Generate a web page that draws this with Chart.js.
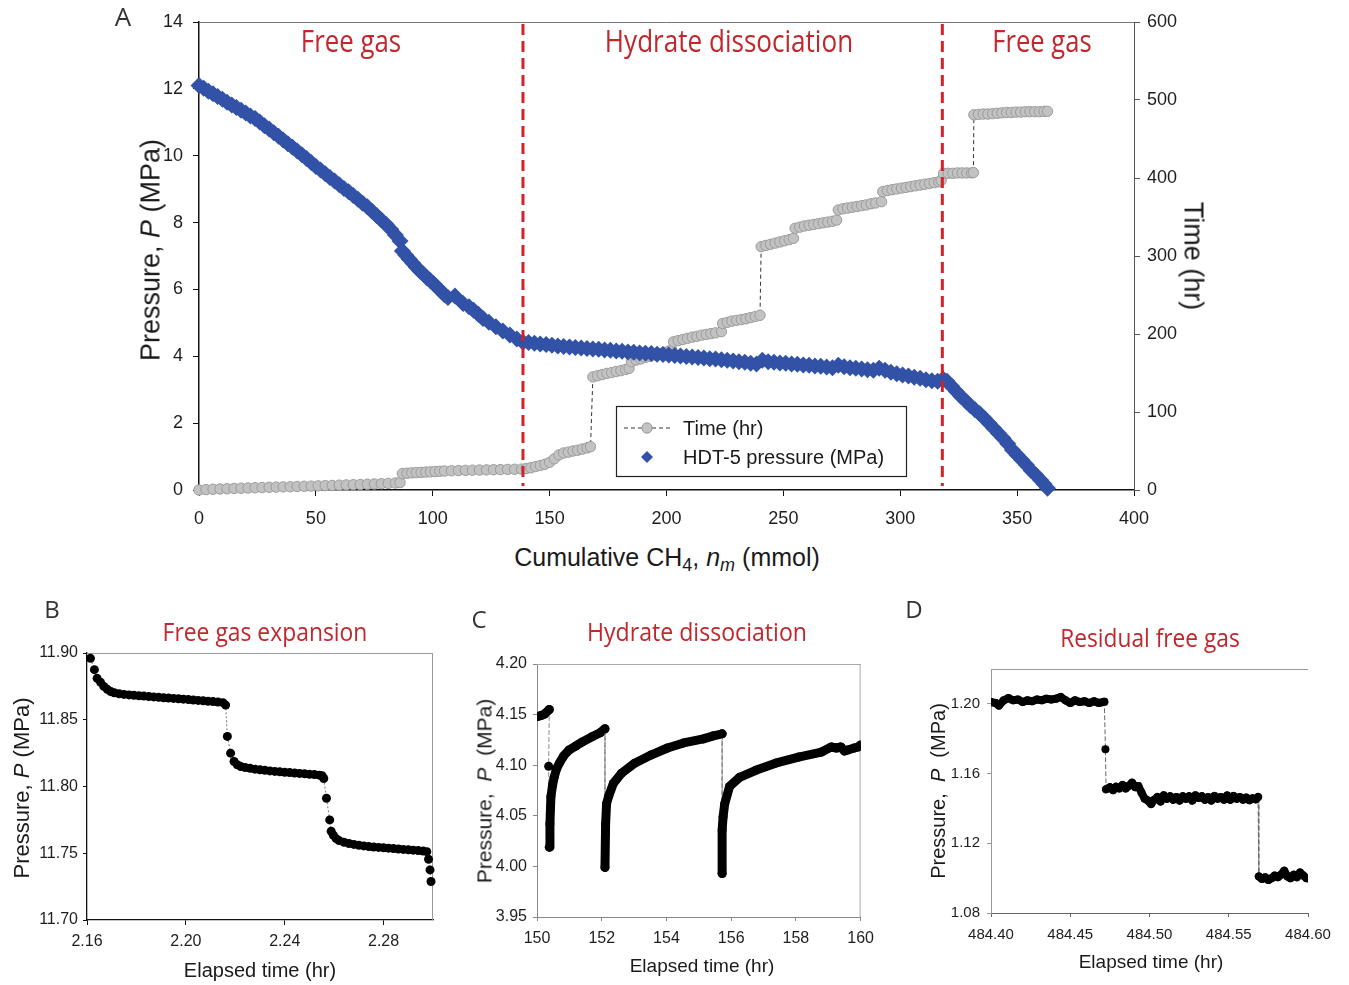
<!DOCTYPE html>
<html>
<head>
<meta charset="utf-8">
<script src="https://cdn.jsdelivr.net/npm/chart.js@4.4.1/dist/chart.umd.min.js"></script>
<style>
  body { margin: 0; background: #fff; }
  #page { position: relative; width: 1349px; height: 985px; overflow: hidden; font-family: 'Liberation Sans', Arial, sans-serif; color: #1a1a1a; }
  canvas { position: absolute; }
  .t { position: absolute; white-space: nowrap; line-height: 1; transform: translate(-50%, -50%); }
  .rot { transform: translate(-50%, -50%) rotate(-90deg); }
  .rotr { transform: translate(-50%, -50%) rotate(90deg); }
  .red { color: #c1272d; font-family: 'Open Sans', sans-serif; }
  .letter { font-family: 'Open Sans', sans-serif; color: #333; }
  sub { font-size: 0.72em; vertical-align: -0.3em; line-height: 0; }
</style>
</head>
<body>
<div id="page">
  <canvas id="chartA" width="1100" height="530" style="left:100px;top:0px"></canvas>
  <canvas id="chartB" width="445" height="365" style="left:0px;top:600px"></canvas>
  <canvas id="chartC" width="432" height="365" style="left:450px;top:600px"></canvas>
  <canvas id="chartD" width="440" height="365" style="left:900px;top:600px"></canvas>

  <!-- panel A -->
  <div class="t letter" style="left:123px;top:16px;font-size:26px">A</div>
  <div class="t red" style="left:351px;top:40px;font-size:31px" data-w="100">Free gas</div>
  <div class="t red" style="left:729px;top:40px;font-size:31px" data-w="248">Hydrate dissociation</div>
  <div class="t red" style="left:1042px;top:40px;font-size:31px" data-w="99">Free gas</div>
  <div class="t rot" style="left:151px;top:250px;font-size:27px">Pressure, <i>P</i> (MPa)</div>
  <div class="t rotr" style="left:1193px;top:256px;font-size:27px">Time (hr)</div>
  <div class="t" style="left:667px;top:557px;font-size:25px">Cumulative CH<sub>4</sub>, <i>n<sub>m</sub></i> (mmol)</div>

  <!-- panel B -->
  <div class="t letter" style="left:52px;top:609px;font-size:24px">B</div>
  <div class="t red" style="left:265px;top:631px;font-size:25px" data-w="205">Free gas expansion</div>
  <div class="t rot" style="left:22px;top:788px;font-size:22px">Pressure, <i>P</i> (MPa)</div>
  <div class="t" style="left:260px;top:970px;font-size:20px">Elapsed time (hr)</div>

  <!-- panel C -->
  <div class="t letter" style="left:479px;top:619px;font-size:24px">C</div>
  <div class="t red" style="left:697px;top:631px;font-size:25px" data-w="220">Hydrate dissociation</div>
  <div class="t rot" style="left:484px;top:791px;font-size:21px">Pressure,&nbsp; <i>P</i>&nbsp; (MPa)</div>
  <div class="t" style="left:702px;top:965px;font-size:19px">Elapsed time (hr)</div>

  <!-- panel D -->
  <div class="t letter" style="left:914px;top:609px;font-size:24px">D</div>
  <div class="t red" style="left:1150px;top:637px;font-size:25px" data-w="180">Residual free gas</div>
  <div class="t rot" style="left:938px;top:791px;font-size:20px">Pressure,&nbsp; <i>P</i>&nbsp; (MPa)</div>
  <div class="t" style="left:1151px;top:961px;font-size:19px">Elapsed time (hr)</div>
</div>

<script>
// ---- panel A : cumulative CH4 vs pressure and elapsed time ----
const nmPressure = [
  0, 2, 4, 6, 8, 10, 12, 14, 16, 18, 20, 22, 24, 26, 28,
  30, 32, 34, 36, 38, 40, 42, 44, 46, 48, 50, 52, 54, 56, 58,
  60, 62, 64, 66, 68, 70, 72, 74, 76, 78, 80, 82, 84, 86,
  87, 88.5, 90, 91.5, 93, 94.5, 96, 97.5, 99, 100.5, 102, 103.5, 105, 106.5,
  109.5, 113, 115.5, 117.5, 119.5, 121.5, 124, 127, 130, 133, 136, 138.6,
  141, 143.5, 146, 148.5, 151, 153.5, 156, 158.5, 161, 163.5, 166, 168.5, 171, 173.5, 176,
  178.5, 181, 183.5, 186, 188.5, 191, 193.5, 196, 198.5, 201, 203.5, 206, 208.5, 211, 213.5,
  216, 218.5, 221, 223.5, 226, 228.5, 231, 233.5, 236, 238.5, 241, 243.5, 246, 248.5, 251,
  253.5, 256, 258.5, 261, 263.5, 266, 268.5, 271, 273.5, 276, 278.5, 281, 283.5, 286, 288.5,
  291, 293.5, 296, 298.5, 301, 303.5, 306, 308.5, 311, 313.5, 316, 318.3,
  320, 322, 324, 326, 328, 330, 332, 334, 336, 338, 340, 342,
  344, 346, 348, 350, 352, 354, 356, 358, 360, 361.5, 363
];
const pressureMPa = [
  12.10, 12.02, 11.93, 11.85, 11.77, 11.69, 11.60, 11.52, 11.44, 11.36, 11.28, 11.19, 11.11, 11.01, 10.90,
  10.80, 10.69, 10.58, 10.47, 10.36, 10.25, 10.14, 10.03, 9.92, 9.80, 9.68, 9.57, 9.46, 9.35, 9.24,
  9.13, 9.02, 8.92, 8.81, 8.70, 8.58, 8.47, 8.34, 8.21, 8.08, 7.95, 7.80, 7.63, 7.45,
  7.15, 7.02, 6.90, 6.78, 6.66, 6.55, 6.46, 6.35, 6.26, 6.16, 6.06, 5.95, 5.84, 5.76,
  5.80, 5.58, 5.48, 5.38, 5.26, 5.13, 5.02, 4.88, 4.76, 4.64, 4.52, 4.42,
  4.41, 4.39, 4.37, 4.35, 4.33, 4.31, 4.29, 4.28, 4.26, 4.25, 4.23, 4.22, 4.21, 4.19, 4.18,
  4.16, 4.15, 4.13, 4.12, 4.10, 4.09, 4.08, 4.06, 4.05, 4.04, 4.02, 4.01, 3.99, 3.98, 3.96,
  3.95, 3.93, 3.92, 3.90, 3.88, 3.86, 3.84, 3.82, 3.79, 3.77, 3.88, 3.84, 3.82, 3.80, 3.79,
  3.77, 3.76, 3.74, 3.73, 3.71, 3.70, 3.68, 3.66, 3.73, 3.69, 3.66, 3.64, 3.62, 3.60, 3.58,
  3.64, 3.58, 3.52, 3.48, 3.44, 3.41, 3.37, 3.34, 3.30, 3.27, 3.25, 3.32,
  3.25, 3.10, 2.95, 2.80, 2.66, 2.52, 2.40, 2.28, 2.15, 2.00, 1.85, 1.70,
  1.55, 1.38, 1.20, 1.05, 0.90, 0.75, 0.58, 0.45, 0.30, 0.18, 0.05
];
const nmTime = [
  0, 3, 6, 9, 12, 15, 18, 21, 24, 27, 30, 33, 36, 39, 42,
  45, 48, 51, 54, 57, 60, 63, 66, 69, 72, 75, 78, 81, 84, 86,
  87, 89, 91, 93, 95, 97, 99, 101, 103, 105, 108,
  111, 114, 117, 120, 123, 126, 129, 132, 135, 138,
  140, 142, 144, 146, 148, 150, 152, 154, 156, 158, 160, 162, 164, 166, 167.5,
  168.5, 170.5, 172.5, 174.5, 176.5, 178.5, 180.5, 182.5, 184,
  185, 187, 189, 191, 193, 195, 197, 199, 201, 202.2,
  203, 205, 207, 209, 211, 213, 215, 217, 219, 221, 223.5,
  224, 226, 228, 230, 232, 234, 236, 238, 240,
  240.5, 242.5, 244.5, 246.5, 248.5, 250.5, 252.5, 254.3,
  255, 257, 259, 261, 263, 265, 267, 269, 271, 272.8,
  273.5, 275.5, 277.5, 279.5, 281.5, 283.5, 285.5, 287.5, 289.5, 292,
  292.5, 294.5, 296.5, 298.5, 300.5, 302.5, 304.5, 306.5, 308.5, 310.5, 312.5, 314.5, 316.5, 317.5,
  318.5, 320.5, 322.5, 324.5, 326.5, 328.5, 330.5, 331.3,
  331.5, 333.5, 335.5, 337.5, 339.5, 341.5, 343.5, 345.5, 347.5, 349.5, 351.5, 353.5, 355.5, 357.5, 359.5, 361.5, 363
];
const timeHr = [
  0, 0.5, 1, 1.3, 1.6, 2, 2.3, 2.6, 2.9, 3.2, 3.5, 3.7, 4, 4.2, 4.5,
  4.8, 5, 5.3, 5.6, 5.9, 6.2, 6.5, 6.8, 7, 7.4, 7.7, 8.1, 8.5, 9, 9.5,
  21, 21.5, 22, 22.3, 22.6, 23, 23.3, 23.6, 24, 24.3, 24.6,
  25, 25.2, 25.4, 25.6, 25.8, 26, 26.2, 26.4, 26.6, 26.8,
  27.5, 28.5, 30, 31.5, 33, 35.5, 40, 45, 47.5, 48.5, 50, 51, 52.5, 54, 55.5,
  145, 146.5, 148, 149.5, 150.5, 152, 153, 154.5, 156,
  164.5, 166.5, 168, 170, 171.5, 173, 175, 176.5, 178, 179.5,
  190, 191.5, 193, 194.5, 196, 197, 198.5, 199.5, 200.5, 201.5, 203,
  213.5, 215, 216.5, 217.5, 218.5, 219.5, 221, 222.5, 224,
  312, 313.5, 315, 316.5, 318, 319.5, 321, 322.6,
  335.5, 337, 338.5, 339.5, 340.5, 341.5, 342.5, 343.5, 344.5, 346,
  359, 360.5, 361.5, 362.5, 363.5, 364.5, 365.5, 367, 368, 369.6,
  382.5, 384, 385, 386, 387, 388, 389, 390, 391, 392, 393, 394, 395, 397,
  406, 406, 406, 406.5, 406.5, 406.5, 406.5, 407,
  481, 481.5, 482, 482, 482.5, 483, 483.5, 484, 484, 484.5, 484.5, 485, 485, 485, 485, 485.5, 485.5
];
const phaseBounds = [138.6, 318];
const ticksAx = [0, 50, 100, 150, 200, 250, 300, 350, 400];
const ticksAy = [0, 2, 4, 6, 8, 10, 12, 14];
const ticksAy2 = [0, 100, 200, 300, 400, 500, 600];

// ---- panel B : free gas expansion ----
const tB = [
  2.1614, 2.1630, 2.1641, 2.1655, 2.1668, 2.1682, 2.1696, 2.171, 2.173, 2.175,
  2.177, 2.179, 2.181, 2.183, 2.185, 2.187, 2.189, 2.191, 2.193, 2.195,
  2.197, 2.199, 2.201, 2.203, 2.205, 2.207, 2.209, 2.211, 2.213, 2.215,
  2.2161, 2.2168, 2.2181, 2.2195, 2.2208, 2.2222, 2.224, 2.226, 2.228, 2.230,
  2.232, 2.234, 2.236, 2.238, 2.240, 2.242, 2.244, 2.246, 2.248, 2.250,
  2.252, 2.254, 2.2552, 2.2558, 2.2569, 2.2582, 2.2588, 2.2597, 2.2608, 2.262,
  2.264, 2.266, 2.268, 2.270, 2.272, 2.274, 2.276, 2.278, 2.280, 2.282,
  2.284, 2.286, 2.288, 2.290, 2.292, 2.294, 2.296, 2.2975, 2.2982, 2.2988,
  2.2992
];
const pB = [
  11.896, 11.8875, 11.881, 11.878, 11.875, 11.8728, 11.8712, 11.8702, 11.8695, 11.869,
  11.8686, 11.8683, 11.868, 11.8677, 11.8674, 11.8671, 11.8668, 11.8665, 11.8662, 11.866,
  11.8657, 11.8654, 11.8651, 11.8648, 11.8645, 11.8642, 11.8639, 11.8636, 11.8633, 11.8628,
  11.861, 11.8375, 11.825, 11.8187, 11.8163, 11.815, 11.8142, 11.8136, 11.813, 11.8125,
  11.8121, 11.8117, 11.8113, 11.811, 11.8107, 11.8104, 11.8101, 11.8098, 11.8095, 11.8092,
  11.8089, 11.8085, 11.808, 11.806, 11.7912, 11.775, 11.7665, 11.7635, 11.761, 11.7595,
  11.7582, 11.7573, 11.7566, 11.756, 11.7555, 11.755, 11.7547, 11.7544, 11.7541, 11.7538,
  11.7535, 11.7532, 11.7529, 11.7526, 11.7523, 11.752, 11.7516, 11.7512, 11.7455, 11.7375,
  11.7288
];
const ticksBx = [2.16, 2.20, 2.24, 2.28];
const ticksBy = [11.70, 11.75, 11.80, 11.85, 11.90];

// ---- panel C : hydrate dissociation ----
const tC = [
  150.00, 150.12, 150.23, 150.38, 150.36, 150.38, 150.40, 150.43, 150.48, 150.53,
  150.60, 150.69, 150.82, 150.99, 151.20, 151.40, 151.70, 151.95, 152.10, 152.10,
  152.12, 152.15, 152.21, 152.36, 152.61, 153.02, 153.52, 154.03, 154.53, 155.14,
  155.45, 155.72, 155.72, 155.72, 155.75, 155.80, 155.95, 156.26, 156.76, 157.37,
  158.08, 158.79, 159.09, 159.25, 159.39, 159.50, 159.60, 159.80, 159.92, 160.00
];
const pC = [
  4.148, 4.149, 4.1505, 4.155, 4.099, 4.019, 4.042, 4.069, 4.080, 4.088,
  4.096, 4.102, 4.109, 4.115, 4.119, 4.123, 4.128, 4.132, 4.136, 3.999,
  4.042, 4.062, 4.069, 4.082, 4.092, 4.102, 4.110, 4.117, 4.122, 4.126,
  4.129, 4.131, 3.993, 4.036, 4.049, 4.062, 4.079, 4.088, 4.095, 4.102,
  4.108, 4.113, 4.118, 4.117, 4.118, 4.114, 4.115, 4.117, 4.118, 4.120
];
const ticksCx = [150, 152, 154, 156, 158, 160];
const ticksCy = [3.95, 4.00, 4.05, 4.10, 4.15, 4.20];

// ---- panel D : residual free gas ----
const tD = [
  484.400, 484.403, 484.405, 484.408, 484.411, 484.414, 484.417, 484.420, 484.423, 484.426,
  484.429, 484.432, 484.435, 484.438, 484.441, 484.444, 484.447, 484.450, 484.453, 484.456,
  484.459, 484.462, 484.465, 484.468, 484.4715, 484.4722,
  484.4726, 484.475, 484.477, 484.479, 484.481, 484.483, 484.485, 484.487, 484.489, 484.491, 484.493,
  484.495, 484.497, 484.499, 484.501, 484.503, 484.505, 484.507, 484.509, 484.511, 484.513,
  484.515, 484.517, 484.519, 484.521, 484.523, 484.525, 484.527, 484.529, 484.531, 484.533,
  484.535, 484.537, 484.539, 484.541, 484.543, 484.545, 484.547, 484.549, 484.551, 484.553,
  484.555, 484.557, 484.559, 484.561, 484.563, 484.565, 484.567, 484.5685,
  484.569, 484.571, 484.573, 484.575, 484.577, 484.579, 484.581, 484.583, 484.585, 484.587,
  484.589, 484.591, 484.593, 484.595, 484.597, 484.599, 484.600
];
const pD = [
  1.2010, 1.2005, 1.1990, 1.2020, 1.2033, 1.2020, 1.2025, 1.2010, 1.2020, 1.2015,
  1.2025, 1.2020, 1.2030, 1.2025, 1.2030, 1.2040, 1.2020, 1.2005, 1.2020, 1.2010,
  1.2015, 1.2005, 1.2015, 1.2005, 1.2012, 1.1739,
  1.1510, 1.1522, 1.1505, 1.1525, 1.1515, 1.1535, 1.1515, 1.1530, 1.1548, 1.1522, 1.1528,
  1.1490, 1.1455, 1.1445, 1.1425, 1.1450, 1.1465, 1.1440, 1.1475, 1.1455, 1.1470,
  1.1450, 1.1465, 1.1445, 1.1470, 1.1455, 1.1470, 1.1445, 1.1475, 1.1460, 1.1470,
  1.1450, 1.1465, 1.1445, 1.1472, 1.1455, 1.1465, 1.1450, 1.1474, 1.1450, 1.1472,
  1.1455, 1.1465, 1.1450, 1.1462, 1.1447, 1.1458, 1.1452, 1.1466,
  1.1010, 1.0995, 1.1005, 1.0990, 1.1000, 1.1015, 1.1005, 1.1020, 1.1042, 1.1010,
  1.1000, 1.1020, 1.1005, 1.1032, 1.1015, 1.1000, 1.1000
];
const ticksDx = [484.40, 484.45, 484.50, 484.55, 484.60];
const ticksDy = [1.08, 1.12, 1.16, 1.20];

Chart.defaults.font.family = "'Liberation Sans', Arial, sans-serif";
Chart.defaults.color = '#1e1e1e';

function toPoints(xs, ys) {
  return xs.map((x, i) => ({ x: x, y: ys[i] }));
}

// one cartesian axis with fixed thickness and explicit tick values
function axis(o) {
  return {
    type: 'linear',
    position: o.pos,
    min: o.min,
    max: o.max,
    bounds: 'data',
    afterBuildTicks: s => { s.ticks = o.ticks.map(v => ({ value: v })); },
    afterFit: s => {
      if (o.pos === 'bottom') s.height = o.size;
      else s.width = o.size;
    },
    grid: { drawOnChartArea: false, tickLength: o.tick, color: o.tickColor || o.line, tickWidth: 1 },
    border: { color: o.line, width: o.lineWidth || 1 },
    ticks: {
      padding: o.pad,
      font: { size: o.font },
      maxRotation: 0,
      autoSkip: false,
      callback: v => (o.digits == null ? v : Number(v).toFixed(o.digits))
    }
  };
}

// thick run for continuous readings, thin dashed link across sudden drops
function dropSegment(limit, thick, linkColor) {
  const isDrop = ctx => ctx.p0.parsed.y - ctx.p1.parsed.y > limit;
  return {
    borderWidth: ctx => (isDrop(ctx) ? 1 : thick),
    borderColor: ctx => (isDrop(ctx) ? linkColor : '#000'),
    borderDash: ctx => (isDrop(ctx) ? [4, 3] : [])
  };
}

const framePlugin = {
  id: 'frame',
  beforeDatasetsDraw(chart, args, opts) {
    const ctx = chart.ctx;
    const a = chart.chartArea;
    ctx.save();
    ctx.lineWidth = 1;
    if (opts.top) {
      ctx.strokeStyle = opts.top;
      ctx.beginPath();
      ctx.moveTo(a.left, a.top + 0.5);
      ctx.lineTo(a.right, a.top + 0.5);
      ctx.stroke();
    }
    if (opts.right) {
      ctx.strokeStyle = opts.right;
      ctx.beginPath();
      ctx.moveTo(a.right - 0.5, a.top);
      ctx.lineTo(a.right - 0.5, a.bottom);
      ctx.stroke();
    }
    ctx.restore();
  }
};

const phaseLinePlugin = {
  id: 'phaseLines',
  afterDatasetsDraw(chart) {
    const ctx = chart.ctx;
    const a = chart.chartArea;
    ctx.save();
    ctx.strokeStyle = '#d3222a';
    ctx.lineWidth = 3;
    ctx.setLineDash([11, 6]);
    phaseBounds.forEach(v => {
      const px = chart.scales.x.getPixelForValue(v);
      ctx.beginPath();
      ctx.moveTo(px, a.top + 2);
      ctx.lineTo(px, a.bottom - 4);
      ctx.stroke();
    });
    ctx.restore();
  }
};

const boxLegendPlugin = {
  id: 'boxLegend',
  afterDraw(chart) {
    const ctx = chart.ctx;
    const left = chart.chartArea.left + 417;
    const top = chart.chartArea.top + 384;
    const [presDs, timeDs] = chart.data.datasets;
    ctx.save();
    ctx.fillStyle = '#fff';
    ctx.fillRect(left, top, 290, 70);
    ctx.strokeStyle = '#222';
    ctx.lineWidth = 1.2;
    ctx.strokeRect(left + 0.5, top + 0.5, 290, 70);

    // time row
    const y1 = top + 22;
    ctx.strokeStyle = timeDs.borderColor;
    ctx.lineWidth = 1;
    ctx.setLineDash(timeDs.borderDash);
    ctx.beginPath();
    ctx.moveTo(left + 8, y1);
    ctx.lineTo(left + 54, y1);
    ctx.stroke();
    ctx.setLineDash([]);
    ctx.beginPath();
    ctx.arc(left + 31, y1, timeDs.pointRadius, 0, Math.PI * 2);
    ctx.fillStyle = timeDs.pointBackgroundColor;
    ctx.fill();
    ctx.strokeStyle = timeDs.pointBorderColor;
    ctx.stroke();

    // pressure row
    const y2 = top + 51;
    const r = 6;
    ctx.beginPath();
    ctx.moveTo(left + 31, y2 - r);
    ctx.lineTo(left + 31 + r, y2);
    ctx.lineTo(left + 31, y2 + r);
    ctx.lineTo(left + 31 - r, y2);
    ctx.closePath();
    ctx.fillStyle = presDs.pointBackgroundColor;
    ctx.fill();

    ctx.fillStyle = '#1a1a1a';
    ctx.font = "20px 'Liberation Sans', Arial, sans-serif";
    ctx.textBaseline = 'middle';
    ctx.fillText(timeDs.label, left + 67, y1 + 1);
    ctx.fillText(presDs.label, left + 67, y2 + 1);
    ctx.restore();
  }
};

const common = {
  responsive: false,
  animation: false,
  events: []
};

new Chart(document.getElementById('chartA'), {
  type: 'line',
  data: {
    datasets: [
      {
        label: 'HDT-5 pressure (MPa)',
        data: toPoints(nmPressure, pressureMPa),
        yAxisID: 'y',
        showLine: false,
        pointStyle: 'rectRot',
        pointRadius: 8.5,
        pointBackgroundColor: '#3252a7',
        pointBorderWidth: 0,
        clip: false,
        order: 0
      },
      {
        label: 'Time (hr)',
        data: toPoints(nmTime, timeHr),
        yAxisID: 'y2',
        borderColor: '#333',
        borderWidth: 1,
        borderDash: [4, 3],
        pointRadius: 5.2,
        pointBackgroundColor: '#c2c2c2',
        pointBorderColor: '#9b9b9b',
        pointBorderWidth: 1,
        clip: false,
        order: 1
      }
    ]
  },
  options: {
    ...common,
    layout: { padding: { top: 22 } },
    plugins: { legend: { display: false }, tooltip: { enabled: false }, frame: { top: '#777' } },
    scales: {
      x: axis({ pos: 'bottom', min: 0, max: 400, ticks: ticksAx, size: 40, tick: 6, line: '#111', lineWidth: 1.5, pad: 12, font: 18 }),
      y: axis({ pos: 'left', min: 0, max: 14, ticks: ticksAy, size: 99, tick: 6, line: '#111', lineWidth: 1.5, pad: 10, font: 18 }),
      y2: axis({ pos: 'right', min: 0, max: 600, ticks: ticksAy2, size: 66, tick: 6, line: '#555', lineWidth: 1, pad: 7, font: 18 })
    }
  },
  plugins: [framePlugin, phaseLinePlugin, boxLegendPlugin]
});

new Chart(document.getElementById('chartB'), {
  type: 'line',
  data: {
    datasets: [{
      data: toPoints(tB, pB),
      borderColor: '#555',
      borderWidth: 0.8,
      borderDash: [2, 2],
      pointRadius: 4.5,
      pointBackgroundColor: '#000',
      pointBorderWidth: 0,
      clip: false
    }]
  },
  options: {
    ...common,
    layout: { padding: { top: 53, right: 12 } },
    plugins: { legend: { display: false }, tooltip: { enabled: false }, frame: { top: '#999', right: '#999' } },
    scales: {
      x: axis({ pos: 'bottom', min: 2.16, max: 2.30, ticks: ticksBx, size: 45, tick: 5, line: '#111', lineWidth: 1.3, pad: 7, font: 16, digits: 2 }),
      y: axis({ pos: 'left', min: 11.70, max: 11.90, ticks: ticksBy, size: 87, tick: 4, line: '#111', lineWidth: 1.3, pad: 5, font: 16, digits: 2 })
    }
  },
  plugins: [framePlugin]
});

new Chart(document.getElementById('chartC'), {
  type: 'line',
  data: {
    datasets: [{
      data: toPoints(tC, pC),
      borderColor: '#000',
      borderWidth: 9,
      borderCapStyle: 'round',
      borderJoinStyle: 'round',
      segment: dropSegment(0.04, 9, '#888'),
      pointRadius: 4.5,
      pointBackgroundColor: '#000',
      pointBorderWidth: 0
    }]
  },
  options: {
    ...common,
    layout: { padding: { top: 64, right: 15 } },
    plugins: { legend: { display: false }, tooltip: { enabled: false }, frame: { top: '#aaa', right: '#aaa' } },
    scales: {
      x: axis({ pos: 'bottom', min: 150, max: 160, ticks: ticksCx, size: 48, tick: 4, line: '#888', pad: 8, font: 16 }),
      y: axis({ pos: 'left', min: 3.95, max: 4.20, ticks: ticksCy, size: 87, tick: 4, line: '#888', pad: 6, font: 16, digits: 2 })
    }
  },
  plugins: [framePlugin]
});

new Chart(document.getElementById('chartD'), {
  type: 'line',
  data: {
    datasets: [{
      data: toPoints(tD, pD),
      borderColor: '#000',
      borderWidth: 8,
      borderCapStyle: 'round',
      borderJoinStyle: 'round',
      segment: dropSegment(0.015, 8, '#666'),
      pointRadius: 4,
      pointBackgroundColor: '#000',
      pointBorderWidth: 0
    }]
  },
  options: {
    ...common,
    layout: { padding: { top: 69, right: 32 } },
    plugins: { legend: { display: false }, tooltip: { enabled: false }, frame: { top: '#999' } },
    scales: {
      x: axis({ pos: 'bottom', min: 484.40, max: 484.60, ticks: ticksDx, size: 52, tick: 4, line: '#666', pad: 9, font: 15, digits: 2 }),
      y: axis({ pos: 'left', min: 1.08, max: 1.22, ticks: ticksDy, size: 91, tick: 4, line: '#999', pad: 7, font: 15, digits: 2 })
    }
  },
  plugins: [framePlugin]
});

// squeeze the red captions to the widths they have in the figure
document.querySelectorAll('[data-w]').forEach(el => {
  const k = Number(el.dataset.w) / el.offsetWidth;
  el.style.transform = 'translate(-50%, -50%) scaleX(' + k.toFixed(3) + ')';
});
</script>
</body>
</html>
